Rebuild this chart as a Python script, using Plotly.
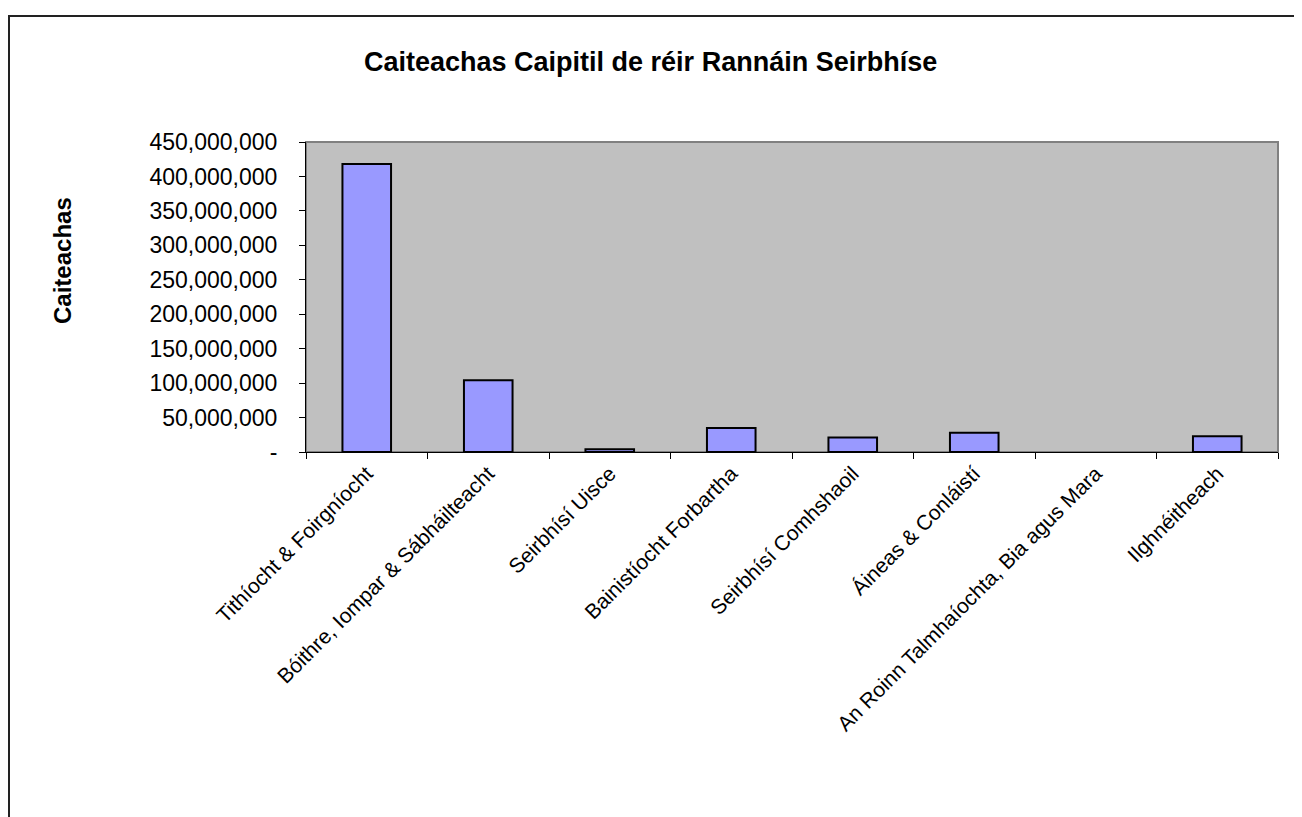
import plotly.graph_objects as go

categories = [
    "Tithíocht & Foirgníocht",
    "Bóithre, Iompar & Sábháilteacht",
    "Seirbhísí Uisce",
    "Bainistíocht Forbartha",
    "Seirbhísí Comhshaoil",
    "Áineas & Conláistí",
    "An Roinn Talmhaíochta, Bia agus Mara",
    "Ilghnéitheach",
]
values = [418000000, 104000000, 4000000, 35000000, 21000000, 28000000, 0, 23000000]

y_tickvals = [0, 50000000, 100000000, 150000000, 200000000, 250000000, 300000000, 350000000, 400000000, 450000000]
y_ticktext = ["-"] + [f"{v:,}" for v in y_tickvals[1:]]

title_text = "Caiteachas Caipitil de réir Rannáin Seirbhíse"
y_title = "Caiteachas"

# figure coordinates (page has an 8px body margin)
W, H = 1294, 809
L, R, T, B = 298, 1270, 134, 444

def px_x(p):
    return (p - L) / (R - L)

def px_y(p):
    return (B - p) / (B - T)

fig = go.Figure()
fig.add_trace(go.Bar(
    x=categories, y=values,
    marker=dict(color="#9999FF",
                line=dict(color="black", width=[2 if v else 0 for v in values])),
    width=0.4,
))

fig.update_layout(
    width=W, height=H,
    margin=dict(l=L, r=W - R, t=T, b=H - B, autoexpand=False),
    paper_bgcolor="white",
    plot_bgcolor="#C0C0C0",
    showlegend=False,
    font=dict(family="Liberation Sans, Arial, sans-serif", color="black"),
    xaxis=dict(
        type="category", range=[-0.5, 7.5],
        showline=True, linecolor="black", linewidth=1,
        ticks="outside", tickson="boundaries", ticklen=6, tickcolor="black",
        tickangle=-45, tickfont=dict(size=21),
        showgrid=False,
    ),
    yaxis=dict(
        range=[0, 450000000],
        tickvals=y_tickvals, ticktext=y_ticktext,
        showline=True, linecolor="black", linewidth=1,
        ticks="outside", ticklen=6, tickcolor="black",
        tickfont=dict(size=23), ticklabelstandoff=17,
        showgrid=False, zeroline=False,
    ),
    annotations=[
        dict(text="<b>" + title_text + "</b>", xref="paper", yref="paper",
             x=px_x(642), y=px_y(54), xanchor="center", yanchor="middle",
             showarrow=False, font=dict(size=27)),
        dict(text="<b>" + y_title + "</b>", xref="paper", yref="paper",
             x=px_x(54), y=px_y(252), xanchor="center", yanchor="middle",
             textangle=-90, showarrow=False, font=dict(size=24)),
    ],
    shapes=[
        dict(type="rect", xref="paper", yref="paper", x0=0, x1=1, y0=0, y1=1,
             line=dict(color="#808080", width=2), layer="below"),
        dict(type="rect", xref="paper", yref="paper",
             x0=px_x(1), x1=px_x(1340), y0=px_y(860), y1=px_y(8),
             line=dict(color="#222222", width=2), layer="below"),
    ],
)

fig.write_html("out.html")
